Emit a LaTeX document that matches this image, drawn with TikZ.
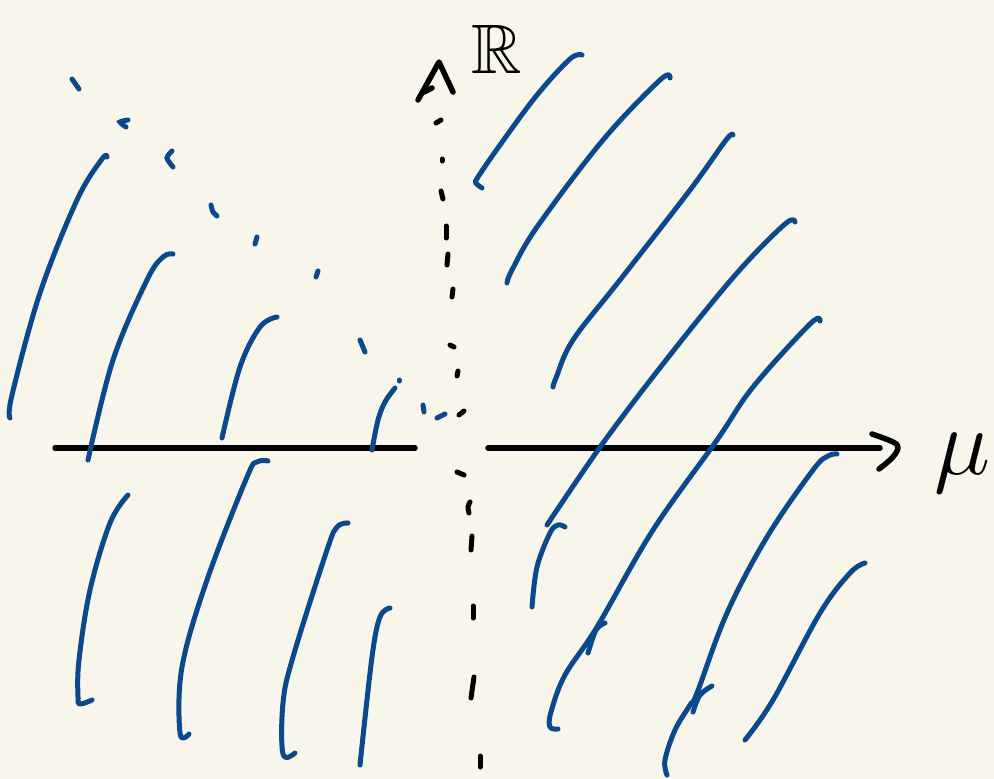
\RequirePackage{fix-cm}
\documentclass[tikz,border=0pt]{standalone}
\usepackage{amssymb}
\definecolor{paper}{RGB}{248,246,234}
\definecolor{ink}{RGB}{12,72,140}
\begin{document}
\begin{tikzpicture}[x=1pt,y=-1pt,
  axis/.style={line width=5.5pt,line cap=round,line join=round,black},
  blue/.style={line width=5pt,line cap=round,line join=round,ink},
  dotmark/.style={line width=5pt,line cap=round,black},
  bdot/.style={line width=5pt,line cap=round,ink}]
\fill[paper] (0,0) rectangle (994,779);
\useasboundingbox (0,0) rectangle (994,779);
% horizontal axis
\coordinate (hl1) at (55,448); \coordinate (hl2) at (415,448);
\coordinate (hr1) at (488,448); \coordinate (hr2) at (880,448);
\draw[axis] (hl1) -- (hl2);
\draw[axis] (hr1) -- (hr2);
\draw[axis] plot[smooth,tension=0.6] coordinates {(872,434) (893,442) (898,448) (892,458) (879,469)};
% vertical axis arrowhead
\draw[axis] (418,100) -- (439,62) -- (453,92);
\draw[axis] (424,92) -- (432,88);
% vertical dotted axis
\foreach \a/\b in {{(436,123)}/{(441,120)},{(442,159)}/{(442,161)},{(441,191)}/{(443,199)},{(446,226)}/{(446,238)},{(448,254)}/{(447,265)},{(453,289)}/{(452,297)},{(450,345)}/{(454,347)},{(458,371)}/{(457,376)},{(459,415)}/{(464,411)},{(457,472)}/{(464,475)},{(472,536)}/{(471,550)},{(473,606)}/{(473,618)},{(474,677)}/{(471,698)},{(480,756)}/{(480,767)}}
  \draw[dotmark] \a -- \b;
\draw[dotmark] plot[smooth] coordinates {(470,502) (468,507) (469,513)};
% labels
\node[font=\fontsize{70}{70}\selectfont,inner sep=0pt,anchor=base] (R) at (497,73) {$\mathbb{R}$};
\node[font=\fontsize{95}{95}\selectfont,inner sep=0pt,anchor=base] (mu) at (962,474) {$\mu$};
% blue dotted arc, upper left
\draw[bdot] (72,79) -- (79,89);
\draw[bdot] plot[smooth] coordinates {(128,120) (120,122) (126,127)};
\draw[bdot] plot[smooth] coordinates {(172,151) (167,158) (173,167)};
\draw[bdot] plot[smooth] coordinates {(211,205) (213,212) (217,216)};
\draw[bdot] (257,237) -- (255,244);
\draw[bdot] (318,271) -- (316,277);
\draw[bdot] (360,340) -- (365,352);
\draw[bdot] (399,380) -- (399,381);
\draw[bdot] (423,405) -- (424,412);
\draw[bdot] (437,418) -- (445,414);
% upper-left curves
\draw[blue] plot[smooth,tension=0.6] coordinates {(107,157) (102,159) (77,200) (40,293) (12,395) (10,418)};
\draw[blue] plot[smooth,tension=0.6] coordinates {(173,254) (163,257) (147,280) (113,360) (88,460)};
\draw[blue] plot[smooth,tension=0.6] coordinates {(277,317) (260,327) (240,367) (222,438)};
\draw[blue] plot[smooth,tension=0.6] coordinates {(395,388) (385,402) (378,420) (372,450)};
% lower-left curves
\draw[blue] plot[smooth,tension=0.6] coordinates {(128,495) (110,523) (90,590) (79,660) (78,697) (80,704) (92,700)};
\draw[blue] plot[smooth,tension=0.6] coordinates {(268,461) (257,462) (247,477) (207,580) (182,667) (180,733) (189,734)};
\draw[blue] plot[smooth,tension=0.6] coordinates {(348,523) (337,527) (327,550) (293,657) (283,703) (283,754) (295,753)};
\draw[blue] plot[smooth,tension=0.6] coordinates {(390,608) (380,617) (372,657) (360,765)};
% right-hand lines
\draw[blue] plot[smooth,tension=0.6] coordinates {(582,55) (570,59) (537,95) (500,145) (478,177) (476,183) (482,188)};
\draw[blue] plot[smooth,tension=0.6] coordinates {(670,78) (660,80) (603,140) (537,227) (512,270) (507,283)};
\draw[blue] plot[smooth,tension=0.6] coordinates {(733,135) (726,140) (690,190) (620,280) (573,340) (556,378) (553,387)};
\draw[blue] plot[smooth,tension=0.6] coordinates {(795,222) (785,224) (737,273) (670,355) (603,443) (547,525)};
\draw[blue] plot[smooth,tension=0.6] coordinates {(820,321) (810,324) (753,387) (717,440) (653,530) (597,627) (565,675) (551,712) (550,727) (558,729)};
\draw[blue] plot[smooth,tension=0.6] coordinates {(605,623) (596,630) (588,653)};
\draw[blue] plot[smooth,tension=0.6] coordinates {(837,454) (828,456) (813,470) (767,537) (727,613) (697,693) (690,705) (675,730) (665,760) (667,775)};
\draw[blue] plot[smooth,tension=0.6] coordinates {(712,686) (700,695) (693,712)};
\draw[blue] plot[smooth,tension=0.6] coordinates {(865,563) (850,573) (820,613) (773,700) (745,740)};
\draw[blue] plot[smooth,tension=0.6] coordinates {(565,527) (558,525) (550,533) (537,567) (532,607)};
\end{tikzpicture}
\end{document}
